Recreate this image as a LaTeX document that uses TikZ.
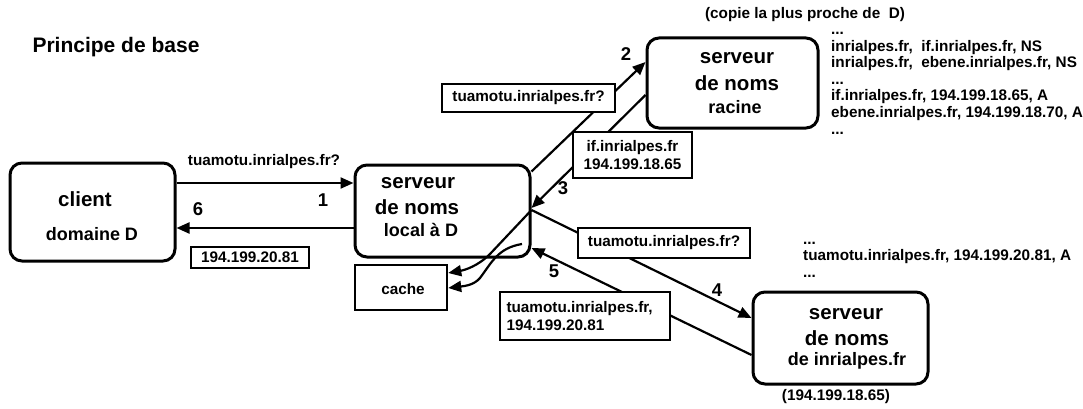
\documentclass[tikz,border=0pt]{standalone}
\usepackage{fontspec}
\setmainfont{Liberation Sans}
\usetikzlibrary{arrows.meta}
\begin{document}
\begin{tikzpicture}[x=1pt,y=-1pt,
  server/.style={draw,line width=3pt,rounded corners=12pt,inner sep=0pt},
  lbox/.style={draw,line width=2.3pt,fill=white,inner sep=0pt},
  arr/.style={line width=2.2pt,-{Triangle[length=13pt,width=11pt]}},
  big/.style={font=\fontsize{20.5}{22}\selectfont\bfseries,inner sep=0pt},
  mid/.style={font=\fontsize{18}{20}\selectfont\bfseries,inner sep=0pt},
  small/.style={font=\fontsize{15.3}{17}\selectfont\bfseries,inner sep=0pt},
  num/.style={font=\fontsize{18.5}{20}\selectfont\bfseries,inner sep=0pt},
  lst/.style={font=\fontsize{15.3}{17}\selectfont\bfseries,inner sep=0pt,anchor=base west}]
\useasboundingbox (0,0) rectangle (1083,409);

% boxes
\node[server,minimum width=165pt,minimum height=98pt] (client) at (92.5,212) {};
\node[server,minimum width=175pt,minimum height=92pt] (local) at (442.5,211) {};
\node[server,minimum width=171pt,minimum height=90pt] (root) at (732.5,83) {};
\node[server,minimum width=175pt,minimum height=92pt] (dom) at (840.5,338) {};
\node[draw,line width=2.5pt,minimum width=92pt,minimum height=45pt,inner sep=0pt] (cache) at (401,287.5) {};

% texts in boxes
\node[big] (clientA) at (85,199) {client};
\node[mid] (clientB) at (92,234) {domaine D};
\node[big] (localA) at (418,183) {serveur};
\node[big] (localB) at (417,207) {de noms};
\node[mid] (localC) at (421,230) {local à D};
\node[big] (rootA) at (737,58) {serveur};
\node[big] (rootB) at (737,83) {de noms};
\node[mid] (rootC) at (735,107) {racine};
\node[big] (domA) at (846,314) {serveur};
\node[big] (domB) at (847,338) {de noms};
\node[mid] (domC) at (847,361) {de inrialpes.fr};
\node[small] (cacheT) at (403,289) {cache};

% title and captions
\node[big,font=\fontsize{21}{22}\selectfont\bfseries] (title) at (116,47) {Principe de base};
\node[small] (copie) at (805,15) {(copie la plus proche de\ \ D)};
\node[small] (domip) at (836,397) {(194.199.18.65)};

% lists
\node[lst] (r1) at (831,35) {...};
\node[lst] (r2) at (831,51.5) {inrialpes.fr,\ \ if.inrialpes.fr, NS};
\node[lst] (r3) at (831,68) {inrialpes.fr,\ \ ebene.inrialpes.fr, NS};
\node[lst] (r4) at (831,84.5) {...};
\node[lst] (r5) at (831,101) {if.inrialpes.fr, 194.199.18.65, A};
\node[lst] (r6) at (831,117.5) {ebene.inrialpes.fr, 194.199.18.70, A};
\node[lst] (r7) at (831,134) {...};
\node[lst] (d1) at (803,244) {...};
\node[lst] (d2) at (803,260) {tuamotu.inrialpes.fr, 194.199.20.81, A};
\node[lst] (d3) at (803,277) {...};

% connectors
\draw[arr] ([yshift=29pt]client.east) -- ([yshift=28pt]local.west);
\draw[arr] ([yshift=-17pt]local.west) -- ([yshift=-16pt]client.east);
\draw[arr] ([yshift=-8pt]local.north east) -- ([yshift=21pt]root.west);
\draw[arr] ([yshift=-12pt]root.west) -- ([yshift=3pt]local.east);
\draw[arr] ([yshift=1pt]local.east) -- ([yshift=20pt]dom.west);
\draw[arr] ([yshift=-17pt]dom.west) -- ([yshift=-37pt]local.east);
\coordinate (c1s) at ([yshift=1pt]local.east);
\coordinate (c2s) at (522,244);
\draw[arr] (c1s) -- (490,254) .. controls (478,266) and (465,270) .. ([yshift=14.5pt]cache.east);
\draw[arr] (c2s) .. controls (498,248) and (492,262) .. (480,278) .. controls (474,285) and (465,286) .. ([yshift=-0.5pt]cache.east);

% label boxes
\node[lbox,minimum width=118pt,minimum height=21pt,small] (b1) at (250,257.5) {194.199.20.81};
\node[lbox,minimum width=173pt,minimum height=28pt,small] (b2) at (528.5,98) {tuamotu.inrialpes.fr?};
\node[lbox,minimum width=119pt,minimum height=46pt,small,align=center,font=\fontsize{15.3}{18}\selectfont\bfseries] (b3) at (632.5,155) {if.inrialpes.fr\\194.199.18.65};
\node[lbox,minimum width=172pt,minimum height=30pt,small] (b4) at (664,243) {tuamotu.inrialpes.fr?};
\node[lbox,minimum width=170pt,minimum height=48pt,small,align=left,text width=157pt,font=\fontsize{15.3}{18}\selectfont\bfseries] (b5) at (585,316) {tuamotu.inrialpes.fr,\\194.199.20.81};

% other labels
\node[small] (q1) at (264,162) {tuamotu.inrialpes.fr?};
\node[num] (n1) at (323,200) {1};
\node[num] (n6) at (198,209) {6};
\node[num] (n2) at (626,54) {2};
\node[num] (n3) at (563,188) {3};
\node[num] (n4) at (717,290) {4};
\node[num] (n5) at (554,271) {5};
\end{tikzpicture}
\end{document}
